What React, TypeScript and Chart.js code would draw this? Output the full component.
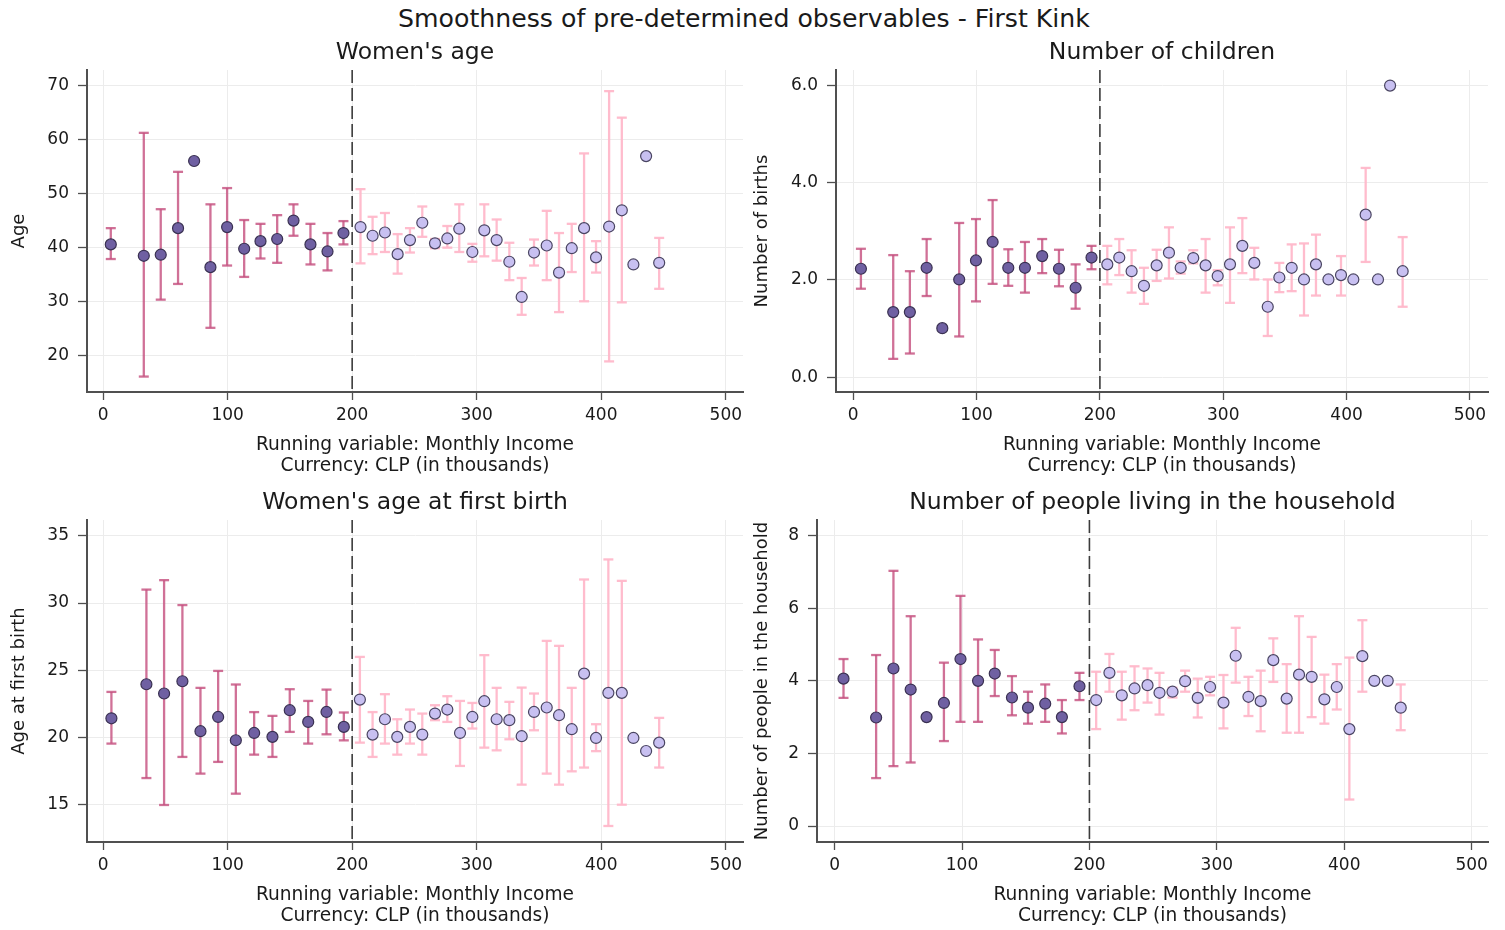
import React, { useEffect, useRef } from "react";
import { Chart, registerables } from "chart.js";

Chart.register(...registerables);

const FONT = "'DejaVu Sans', 'Liberation Sans', sans-serif";
const CUTOFF = 200;
const X_TICKS = [0, 100, 200, 300, 400, 500];
const X_TICK_LABELS = ["0", "100", "200", "300", "400", "500"];
const X_TITLE = ["Running variable: Monthly Income", "Currency: CLP (in thousands)"];
const MAIN_TITLE = "Smoothness of pre-determined observables - First Kink";

// ---------- Panel 1: Women's age ----------
const AGE_Y_TICKS = [20, 30, 40, 50, 60, 70];
const AGE_Y_LABELS = ["20", "30", "40", "50", "60", "70"];
const AGE_L_X = [6.2, 32.7, 46.3, 60.2, 73.1, 86.2, 99.6, 113.3, 126.4, 139.8, 152.9, 166.5, 180.2, 193.0];
const AGE_L_Y = [40.6, 38.5, 38.7, 43.6, 56.0, 36.4, 43.8, 39.8, 41.2, 41.6, 45.0, 40.6, 39.3, 42.7];
const AGE_L_LO = [37.9, 16.2, 30.4, 33.3, null, 25.2, 36.7, 34.6, 38.0, 37.2, 42.2, 36.9, 35.8, 40.6];
const AGE_L_HI = [43.6, 61.2, 47.1, 54.0, null, 48.0, 51.0, 45.1, 44.4, 46.0, 48.0, 44.4, 42.7, 44.9];
const AGE_R_X = [206.7, 216.4, 226.3, 236.5, 246.4, 256.3, 266.5, 276.4, 286.0, 296.5, 306.1, 316.0, 326.2, 336.1, 346.0, 356.2, 366.1, 376.3, 386.2, 395.8, 406.3, 416.5, 425.8, 436.0, 446.5];
const AGE_R_Y = [43.8, 42.2, 42.8, 38.8, 41.4, 44.6, 40.8, 41.7, 43.5, 39.2, 43.2, 41.4, 37.4, 30.9, 39.1, 40.4, 35.4, 39.9, 43.6, 38.2, 43.9, 46.9, 36.9, 56.9, 37.2];
const AGE_R_LO = [37.1, 38.8, 39.2, 35.2, 39.1, 42.0, 39.9, 40.0, 39.2, 37.4, 38.4, 37.6, 34.0, 27.6, 36.7, 34.0, 28.1, 35.5, 30.1, 35.4, 19.0, 29.9, null, null, 32.4];
const AGE_R_HI = [50.8, 45.7, 46.4, 42.5, 43.6, 47.6, 41.6, 44.0, 48.0, 40.7, 48.0, 45.2, 40.9, 34.4, 41.5, 46.8, 42.7, 44.4, 57.4, 41.2, 68.9, 64.0, null, null, 41.8];

// ---------- Panel 2: Number of children ----------
const KIDS_Y_TICKS = [0, 2, 4, 6];
const KIDS_Y_LABELS = ["0.0", "2.0", "4.0", "6.0"];
const KIDS_L_X = [6.2, 32.4, 45.9, 59.5, 72.2, 85.9, 99.5, 113.0, 125.7, 139.2, 153.2, 166.8, 180.3, 193.2];
const KIDS_L_Y = [2.23, 1.34, 1.34, 2.25, 1.01, 2.01, 2.40, 2.78, 2.25, 2.25, 2.49, 2.23, 1.84, 2.46];
const KIDS_L_LO = [1.82, 0.38, 0.49, 1.67, null, 0.84, 1.56, 1.92, 1.88, 1.74, 2.14, 1.87, 1.41, 2.22];
const KIDS_L_HI = [2.64, 2.51, 2.18, 2.84, null, 3.17, 3.25, 3.64, 2.63, 2.78, 2.84, 2.62, 2.32, 2.70];
const KIDS_R_X = [206.0, 215.7, 225.7, 235.7, 246.0, 256.0, 265.5, 275.7, 285.7, 295.5, 305.5, 315.5, 325.2, 336.1, 345.5, 355.5, 365.5, 375.2, 385.3, 395.5, 405.5, 415.5, 425.5, 435.3, 445.5];
const KIDS_R_Y = [2.32, 2.46, 2.18, 1.88, 2.30, 2.56, 2.25, 2.45, 2.30, 2.08, 2.32, 2.70, 2.35, 1.45, 2.05, 2.25, 2.01, 2.32, 2.01, 2.10, 2.01, 3.34, 2.01, 5.99, 2.18];
const KIDS_R_LO = [1.91, 2.10, 1.74, 1.51, 1.98, 2.03, 2.13, 2.34, 1.74, 1.89, 1.53, 2.14, 2.01, 0.85, 1.75, 1.77, 1.27, 1.68, null, 1.68, null, 2.37, null, null, 1.45];
const KIDS_R_HI = [2.70, 2.84, 2.61, 2.25, 2.62, 3.08, 2.38, 2.61, 2.84, 2.20, 3.08, 3.27, 2.66, 2.01, 2.35, 2.73, 2.75, 2.93, null, 2.49, null, 4.30, null, null, 2.88];

// ---------- Panel 3: Women's age at first birth ----------
const AFB_Y_TICKS = [15, 20, 25, 30, 35];
const AFB_Y_LABELS = ["15", "20", "25", "30", "35"];
const AFB_L_X = [6.7, 34.8, 49.0, 63.7, 78.2, 92.4, 106.6, 121.3, 136.0, 149.9, 164.7, 179.4, 193.3];
const AFB_L_Y = [21.44, 23.97, 23.28, 24.19, 20.48, 21.54, 19.81, 20.35, 20.06, 22.04, 21.17, 21.91, 20.80];
const AFB_L_LO = [19.56, 17.0, 15.0, 18.57, 17.33, 18.2, 15.84, 18.74, 18.57, 20.43, 19.56, 20.25, 19.8];
const AFB_L_HI = [23.4, 31.0, 31.7, 29.85, 23.7, 24.96, 23.95, 21.9, 21.62, 23.6, 22.73, 23.57, 21.87];
const AFB_R_X = [206.2, 216.4, 226.3, 236.2, 246.4, 256.3, 266.5, 276.4, 286.6, 296.5, 306.1, 316.0, 326.2, 336.1, 346.0, 356.2, 366.1, 376.3, 386.2, 395.8, 405.7, 416.5, 425.8, 436.0, 446.5];
const AFB_R_Y = [22.83, 20.23, 21.37, 20.06, 20.8, 20.23, 21.79, 22.09, 20.35, 21.54, 22.71, 21.37, 21.3, 20.11, 21.91, 22.24, 21.67, 20.63, 24.76, 19.98, 23.33, 23.33, 19.98, 19.01, 19.63];
const AFB_R_LO = [19.63, 18.57, 19.56, 18.74, 19.56, 18.74, 21.3, 21.17, 17.9, 20.68, 19.26, 19.06, 19.88, 16.51, 20.55, 17.33, 16.51, 17.5, 17.78, 19.0, 13.44, 15.02, null, null, 17.78];
const AFB_R_HI = [26.0, 21.9, 23.23, 21.37, 22.09, 21.79, 22.41, 23.08, 22.73, 22.58, 26.13, 23.7, 22.66, 23.72, 23.28, 27.19, 26.82, 23.7, 31.75, 21.0, 33.24, 31.65, null, null, 21.47];

// ---------- Panel 4: Number of people living in the household ----------
const HH_Y_TICKS = [0, 2, 4, 6, 8];
const HH_Y_LABELS = ["0", "2", "4", "6", "8"];
const HH_L_X = [7.0, 32.6, 46.2, 59.7, 72.2, 85.8, 98.8, 112.6, 125.7, 139.2, 151.8, 165.3, 178.4, 192.2];
const HH_L_Y = [4.06, 2.99, 4.34, 3.76, 3.0, 3.39, 4.6, 4.0, 4.2, 3.54, 3.26, 3.37, 3.0, 3.85];
const HH_L_LO = [3.53, 1.32, 1.65, 1.75, null, 2.34, 2.87, 2.87, 3.58, 3.05, 2.82, 2.87, 2.55, 3.47];
const HH_L_HI = [4.6, 4.71, 7.03, 5.78, null, 4.5, 6.34, 5.14, 4.85, 4.13, 3.7, 3.9, 3.47, 4.22];
const HH_R_X = [205.3, 215.7, 225.4, 235.4, 245.6, 255.0, 265.2, 275.1, 285.0, 294.7, 305.2, 314.8, 324.8, 334.4, 344.3, 354.8, 364.5, 374.4, 384.4, 394.1, 404.0, 414.2, 423.6, 434.1, 444.3];
const HH_R_Y = [3.47, 4.22, 3.6, 3.79, 3.88, 3.67, 3.7, 3.99, 3.53, 3.83, 3.40, 4.69, 3.56, 3.44, 4.57, 3.51, 4.17, 4.11, 3.49, 3.83, 2.67, 4.68, 4.0, 4.0, 3.26];
const HH_R_LO = [2.67, 3.70, 2.93, 3.19, 3.4, 3.07, 3.54, 3.7, 2.99, 3.6, 2.69, 3.95, 3.03, 2.61, 3.97, 2.57, 2.57, 3.0, 2.82, 3.21, 0.73, 3.7, null, null, 2.64];
const HH_R_HI = [4.25, 4.74, 4.25, 4.4, 4.34, 4.22, 3.81, 4.28, 4.06, 4.11, 4.16, 5.46, 4.11, 4.28, 5.17, 4.46, 5.78, 5.21, 4.17, 4.46, 4.64, 5.67, null, null, 3.9];

// ---------- styles ----------
const DARK_FILL = "#6f60a2";
const DARK_EDGE = "#3a3152";
const DARK_CI = "rgba(198, 82, 128, 0.82)";
const LIGHT_FILL = "#c8c0f1";
const LIGHT_EDGE = "#4a4562";
const LIGHT_CI = "rgba(255, 184, 202, 0.95)";
const GRID = "#ececec";
const AXIS = "#505050";
const TEXT = "#1a1a1a";

type Num = number | null;
type Spec = {
  title: string;
  yTitle: string;
  yTitlePad: number;
  cLeft: number; cTop: number; cW: number; cH: number;
  aL: number; aR: number; aT: number; aB: number;
  xMin: number; xMax: number; yMin: number; yMax: number;
  yTicks: number[]; yLabels: string[];
  lx: number[]; ly: number[]; llo: Num[]; lhi: Num[];
  rx: number[]; ry: number[]; rlo: Num[]; rhi: Num[];
};

const SPECS: Spec[] = [
  {
    title: "Women's age", yTitle: "Age", yTitlePad: 9,
    cLeft: 0, cTop: 62, cW: 752, cH: 418, aL: 87, aR: 743, aT: 70, aB: 392,
    xMin: -12.9, xMax: 513.8, yMin: 13.35, yMax: 72.8,
    yTicks: AGE_Y_TICKS, yLabels: AGE_Y_LABELS,
    lx: AGE_L_X, ly: AGE_L_Y, llo: AGE_L_LO, lhi: AGE_L_HI,
    rx: AGE_R_X, ry: AGE_R_Y, rlo: AGE_R_LO, rhi: AGE_R_HI,
  },
  {
    title: "Number of children", yTitle: "Number of births", yTitlePad: 6.5,
    cLeft: 745, cTop: 62, cW: 752, cH: 418, aL: 836, aR: 1488, aT: 70, aB: 392,
    xMin: -14.0, xMax: 514.7, yMin: -0.30, yMax: 6.31,
    yTicks: KIDS_Y_TICKS, yLabels: KIDS_Y_LABELS,
    lx: KIDS_L_X, ly: KIDS_L_Y, llo: KIDS_L_LO, lhi: KIDS_L_HI,
    rx: KIDS_R_X, ry: KIDS_R_Y, rlo: KIDS_R_LO, rhi: KIDS_R_HI,
  },
  {
    title: "Women's age at first birth", yTitle: "Age at first birth", yTitlePad: 9,
    cLeft: 0, cTop: 512, cW: 752, cH: 418, aL: 87, aR: 743, aT: 520, aB: 842,
    xMin: -12.9, xMax: 513.8, yMin: 12.25, yMax: 36.17,
    yTicks: AFB_Y_TICKS, yLabels: AFB_Y_LABELS,
    lx: AFB_L_X, ly: AFB_L_Y, llo: AFB_L_LO, lhi: AFB_L_HI,
    rx: AFB_R_X, ry: AFB_R_Y, rlo: AFB_R_LO, rhi: AFB_R_HI,
  },
  {
    title: "Number of people living in the household", yTitle: "Number of people in the household", yTitlePad: 6.5,
    cLeft: 745, cTop: 512, cW: 752, cH: 418, aL: 817, aR: 1488, aT: 520, aB: 842,
    xMin: -13.8, xMax: 512.8, yMin: -0.44, yMax: 8.43,
    yTicks: HH_Y_TICKS, yLabels: HH_Y_LABELS,
    lx: HH_L_X, ly: HH_L_Y, llo: HH_L_LO, lhi: HH_L_HI,
    rx: HH_R_X, ry: HH_R_Y, rlo: HH_R_LO, rhi: HH_R_HI,
  },
];

function ciData(xs: number[], lo: Num[], hi: Num[]) {
  const out: { x: number; y: number | null }[] = [];
  xs.forEach((x, i) => {
    const a = lo[i];
    const b = hi[i];
    if (a == null || b == null) return;
    out.push({ x, y: a }, { x, y: b }, { x, y: null });
  });
  return out;
}

function Panel({ spec }: { spec: Spec }) {
  const ref = useRef<HTMLCanvasElement>(null);
  useEffect(() => {
    const canvas = ref.current;
    if (!canvas) return;
    const s = spec;
    const yAxisW = s.aL - s.cLeft;
    const xAxisH = s.cTop + s.cH - s.aB;
    const chart = new Chart(canvas, {
      type: "scatter",
      data: {
        datasets: [
          {
            data: s.lx.map((x, i) => ({ x, y: s.ly[i] })),
            backgroundColor: DARK_FILL,
            borderColor: DARK_EDGE,
            pointRadius: 5.5,
            pointBorderWidth: 1.2,
            order: 0,
          },
          {
            data: s.rx.map((x, i) => ({ x, y: s.ry[i] })),
            backgroundColor: LIGHT_FILL,
            borderColor: LIGHT_EDGE,
            pointRadius: 5.5,
            pointBorderWidth: 1.2,
            order: 0,
          },
          {
            data: [{ x: CUTOFF, y: s.yMax }, { x: CUTOFF, y: s.yMin }],
            showLine: true,
            borderColor: "#3c3c3c",
            borderWidth: 1.6,
            borderDash: [13, 5],
            pointRadius: 0,
            order: 1,
          },
          {
            data: ciData(s.lx, s.llo, s.lhi),
            showLine: true,
            spanGaps: false,
            borderColor: DARK_CI,
            borderWidth: 2.3,
            pointStyle: "line",
            pointRadius: 5,
            pointBorderColor: DARK_CI,
            pointBorderWidth: 2.3,
            order: 2,
          },
          {
            data: ciData(s.rx, s.rlo, s.rhi),
            showLine: true,
            spanGaps: false,
            borderColor: LIGHT_CI,
            borderWidth: 2.3,
            pointStyle: "line",
            pointRadius: 5,
            pointBorderColor: LIGHT_CI,
            pointBorderWidth: 2.3,
            order: 2,
          },
        ],
      } as any,
      options: {
        responsive: false,
        animation: false,
        events: [],
        layout: {
          padding: { left: 0, top: s.aT - s.cTop, right: s.cLeft + s.cW - s.aR, bottom: 0 },
        },
        plugins: { legend: { display: false }, tooltip: { enabled: false }, title: { display: false } },
        scales: {
          x: {
            type: "linear",
            min: s.xMin,
            max: s.xMax,
            afterBuildTicks: (sc: any) => {
              sc.ticks = X_TICKS.map((v) => ({ value: v }));
            },
            afterFit: (sc: any) => {
              sc.height = xAxisH;
              sc.paddingLeft = 0;
              sc.paddingRight = 0;
            },
            grid: { color: GRID, lineWidth: 1, drawTicks: true, tickLength: 8, tickColor: AXIS, tickWidth: 1.3 },
            border: { display: true, color: AXIS, width: 2 },
            ticks: {
              autoSkip: false,
              maxRotation: 0,
              padding: 5,
              color: TEXT,
              font: { family: FONT, size: 17 },
              callback: (_v: any, i: number) => X_TICK_LABELS[i],
            },
            title: {
              display: true,
              text: X_TITLE,
              color: TEXT,
              font: { family: FONT, size: 18.6, lineHeight: 1.13 },
              padding: { top: 0, bottom: 3.5 },
            },
          },
          y: {
            type: "linear",
            min: s.yMin,
            max: s.yMax,
            afterBuildTicks: (sc: any) => {
              sc.ticks = s.yTicks.map((v) => ({ value: v }));
            },
            afterFit: (sc: any) => {
              sc.width = yAxisW;
              sc.paddingTop = 0;
              sc.paddingBottom = 0;
            },
            grid: { color: GRID, lineWidth: 1, drawTicks: true, tickLength: 9, tickColor: AXIS, tickWidth: 1.3 },
            border: { display: true, color: AXIS, width: 2 },
            ticks: {
              autoSkip: false,
              padding: 9,
              color: TEXT,
              font: { family: FONT, size: 17 },
              callback: (_v: any, i: number) => s.yLabels[i],
            },
            title: {
              display: true,
              text: s.yTitle,
              color: TEXT,
              font: { family: FONT, size: 18, lineHeight: 1.17 },
              padding: { top: s.yTitlePad, bottom: 0 },
            },
          },
        },
      } as any,
    });
    return () => chart.destroy();
  }, [spec]);

  const cx = (spec.aL + spec.aR) / 2;
  return (
    <>
      <canvas
        ref={ref}
        width={spec.cW}
        height={spec.cH}
        style={{ position: "absolute", left: spec.cLeft, top: spec.cTop, width: spec.cW, height: spec.cH, display: "block" }}
      />
      <div
        style={{
          position: "absolute",
          left: cx - 400,
          width: 800,
          top: spec.aT - 19 - 14,
          height: 28,
          lineHeight: "28px",
          textAlign: "center",
          fontFamily: FONT,
          fontSize: 23.5,
          color: TEXT,
          whiteSpace: "nowrap",
        }}
      >
        {spec.title}
      </div>
    </>
  );
}

export default function App() {
  return (
    <div style={{ position: "absolute", left: 0, top: 0, width: 1505, height: 930, background: "#ffffff", overflow: "hidden" }}>
      <div
        style={{
          position: "absolute",
          left: 744 - 500,
          width: 1000,
          top: 4,
          height: 30,
          lineHeight: "30px",
          textAlign: "center",
          fontFamily: FONT,
          fontSize: 25.2,
          color: TEXT,
          whiteSpace: "nowrap",
        }}
      >
        {MAIN_TITLE}
      </div>
      {SPECS.map((s, i) => (
        <Panel key={i} spec={s} />
      ))}
    </div>
  );
}
